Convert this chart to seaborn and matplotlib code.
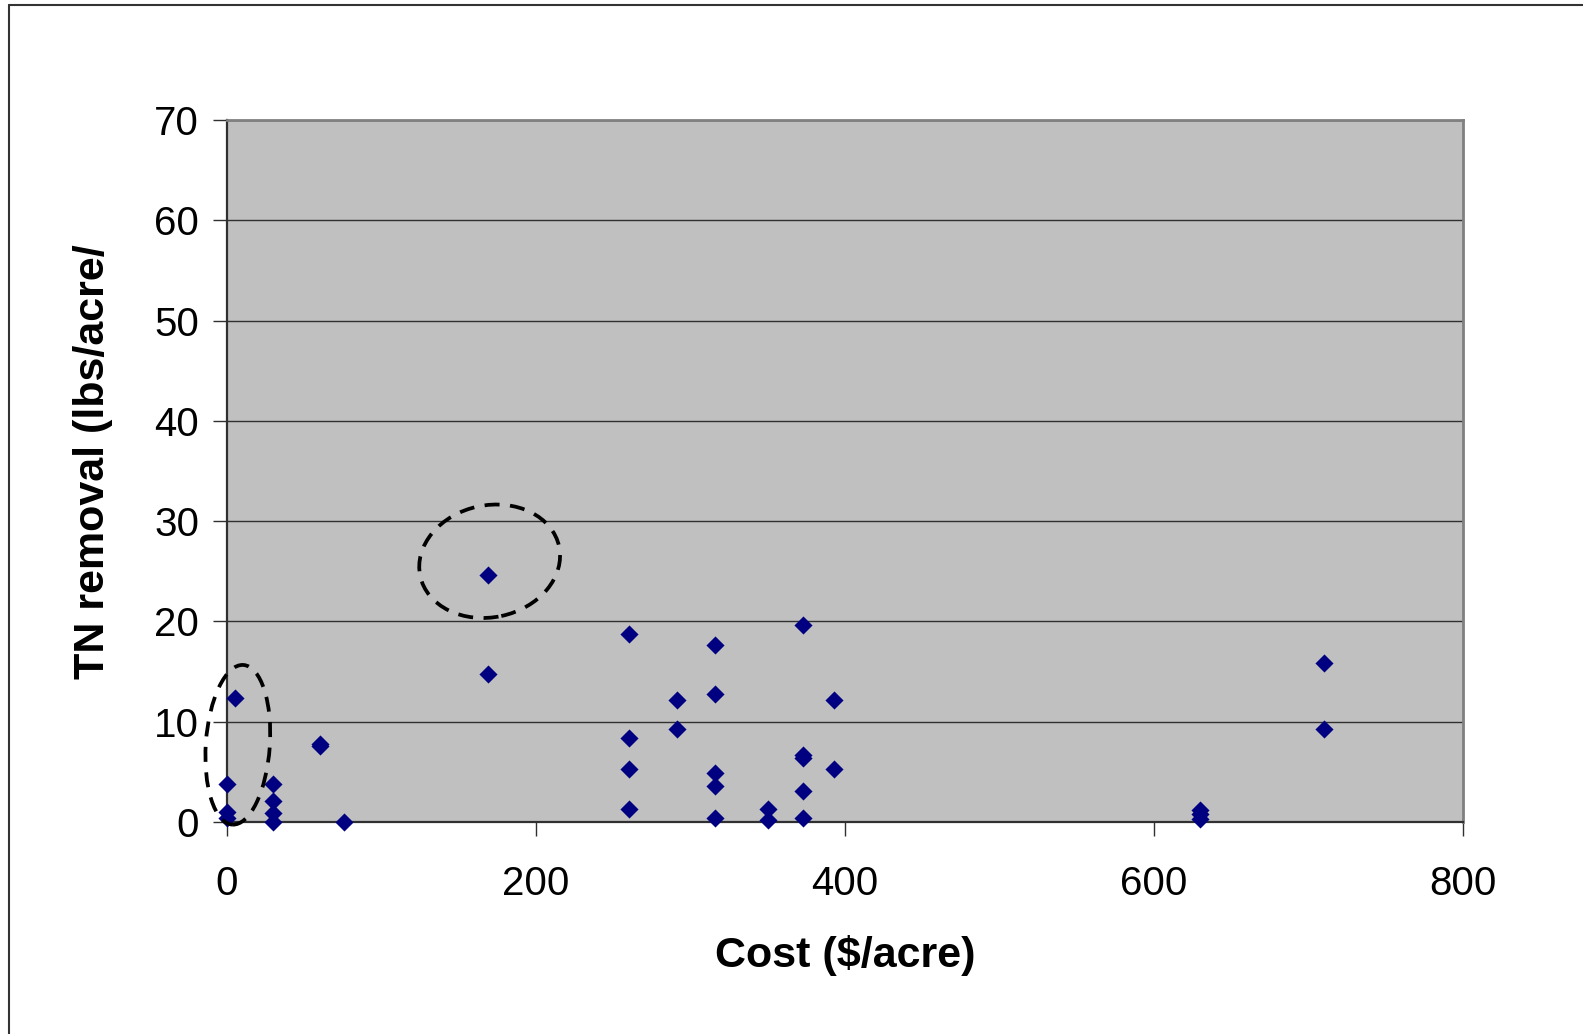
import matplotlib
matplotlib.use("Agg")
import matplotlib.pyplot as plt
import matplotlib.transforms as mtransforms
from matplotlib.patches import Ellipse
from matplotlib.lines import Line2D
import seaborn as sns
import pandas as pd

# ---- data ----
cost = [0, 0, 0, 5, 30, 30, 30, 30, 60, 60, 76,
        169, 169,
        260, 260, 260, 260,
        291, 291,
        316, 316, 316, 316, 316,
        350, 350,
        373, 373, 373, 373, 373,
        393, 393,
        630, 630, 630,
        710, 710]
tn_removal = [3.8, 1.0, 0.4, 12.4, 3.8, 2.1, 0.9, 0.0, 7.6, 7.8, 0.0,
              24.6, 14.8,
              18.7, 8.4, 5.3, 1.3,
              12.2, 9.3,
              17.6, 12.8, 4.9, 3.6, 0.4,
              1.3, 0.2,
              19.6, 6.7, 6.4, 3.1, 0.4,
              12.2, 5.3,
              1.2, 0.8, 0.3,
              15.9, 9.3]
x_ticks = [0, 200, 400, 600, 800]
y_ticks = [0, 10, 20, 30, 40, 50, 60, 70]
x_label = "Cost ($/acre)"
y_label = "TN removal (lbs/acre/"

df = pd.DataFrame({"cost": cost, "tn": tn_removal})

sns.set_style("white")
plt.rcParams["font.family"] = ["Liberation Sans", "DejaVu Sans"]
plt.rcParams["text.color"] = "black"
plt.rcParams["axes.labelcolor"] = "black"
plt.rcParams["xtick.labelcolor"] = "black"
plt.rcParams["ytick.labelcolor"] = "black"

W, H = 1583, 1034
fig = plt.figure(figsize=(W / 100, H / 100), dpi=100)
ax = fig.add_axes([227 / W, 1 - 822 / H, (1463 - 227) / W, (822 - 120) / H])
ax.set_facecolor("#C0C0C0")

sns.scatterplot(data=df, x="cost", y="tn", marker="D", s=85,
                color="#000080", edgecolor="#000080", linewidth=0, ax=ax, zorder=3)
for c in ax.collections:
    c.set_clip_on(False)

ax.set_xlim(0, 800)
ax.set_ylim(0, 70)
ax.set_xticks(x_ticks)
ax.set_yticks(y_ticks)
ax.set_xticklabels([str(v) for v in x_ticks])
ax.set_yticklabels([str(v) for v in y_ticks])

ax.yaxis.grid(True, color="#303030", linewidth=1.0)
ax.xaxis.grid(False)
ax.set_axisbelow(True)

ax.tick_params(axis="x", direction="out", length=10, width=1, color="#303030",
               pad=21, labelsize=29, bottom=True)
ax.tick_params(axis="y", direction="out", length=10, width=1, color="#303030",
               pad=10, labelsize=29, left=True)

for s in ["left", "bottom"]:
    ax.spines[s].set_color("#303030")
    ax.spines[s].set_linewidth(1.6)
for s in ["top", "right"]:
    ax.spines[s].set_color("#808080")
    ax.spines[s].set_linewidth(2.0)
    ax.spines[s].set_visible(True)

ax.set_xlabel(x_label, fontsize=31, fontweight="bold", va="center")
ax.set_ylabel(y_label, fontsize=31, fontweight="bold", va="center")
ax.xaxis.set_label_coords(0.5, (822 - 955) / 702)
ax.yaxis.set_label_coords((93 - 227) / 1236, (822 - 462) / 702)

# dashed ellipses highlighting points (sized in inches, centred in data coords)
def add_ellipse(cx, cy, w_in, h_in, angle):
    tr = fig.dpi_scale_trans + mtransforms.ScaledTranslation(cx, cy, ax.transData)
    e = Ellipse((0, 0), w_in, h_in, angle=angle, fill=False, edgecolor="black",
                linewidth=2.7, linestyle=(0, (4.0, 2.8)), transform=tr,
                clip_on=False, zorder=4)
    ax.add_artist(e)

add_ellipse(170, 26.0, 1.42, 1.12, 12)
add_ellipse(7, 7.7, 0.64, 1.60, -4)

# figure border (top and left edges)
fig.add_artist(Line2D([9 / W, 1], [1 - 5 / H, 1 - 5 / H], transform=fig.transFigure,
                      color="#333333", linewidth=1.5))
fig.add_artist(Line2D([9 / W, 9 / W], [0, 1 - 5 / H], transform=fig.transFigure,
                      color="#333333", linewidth=1.5))

fig.savefig("out.png", dpi=100)
